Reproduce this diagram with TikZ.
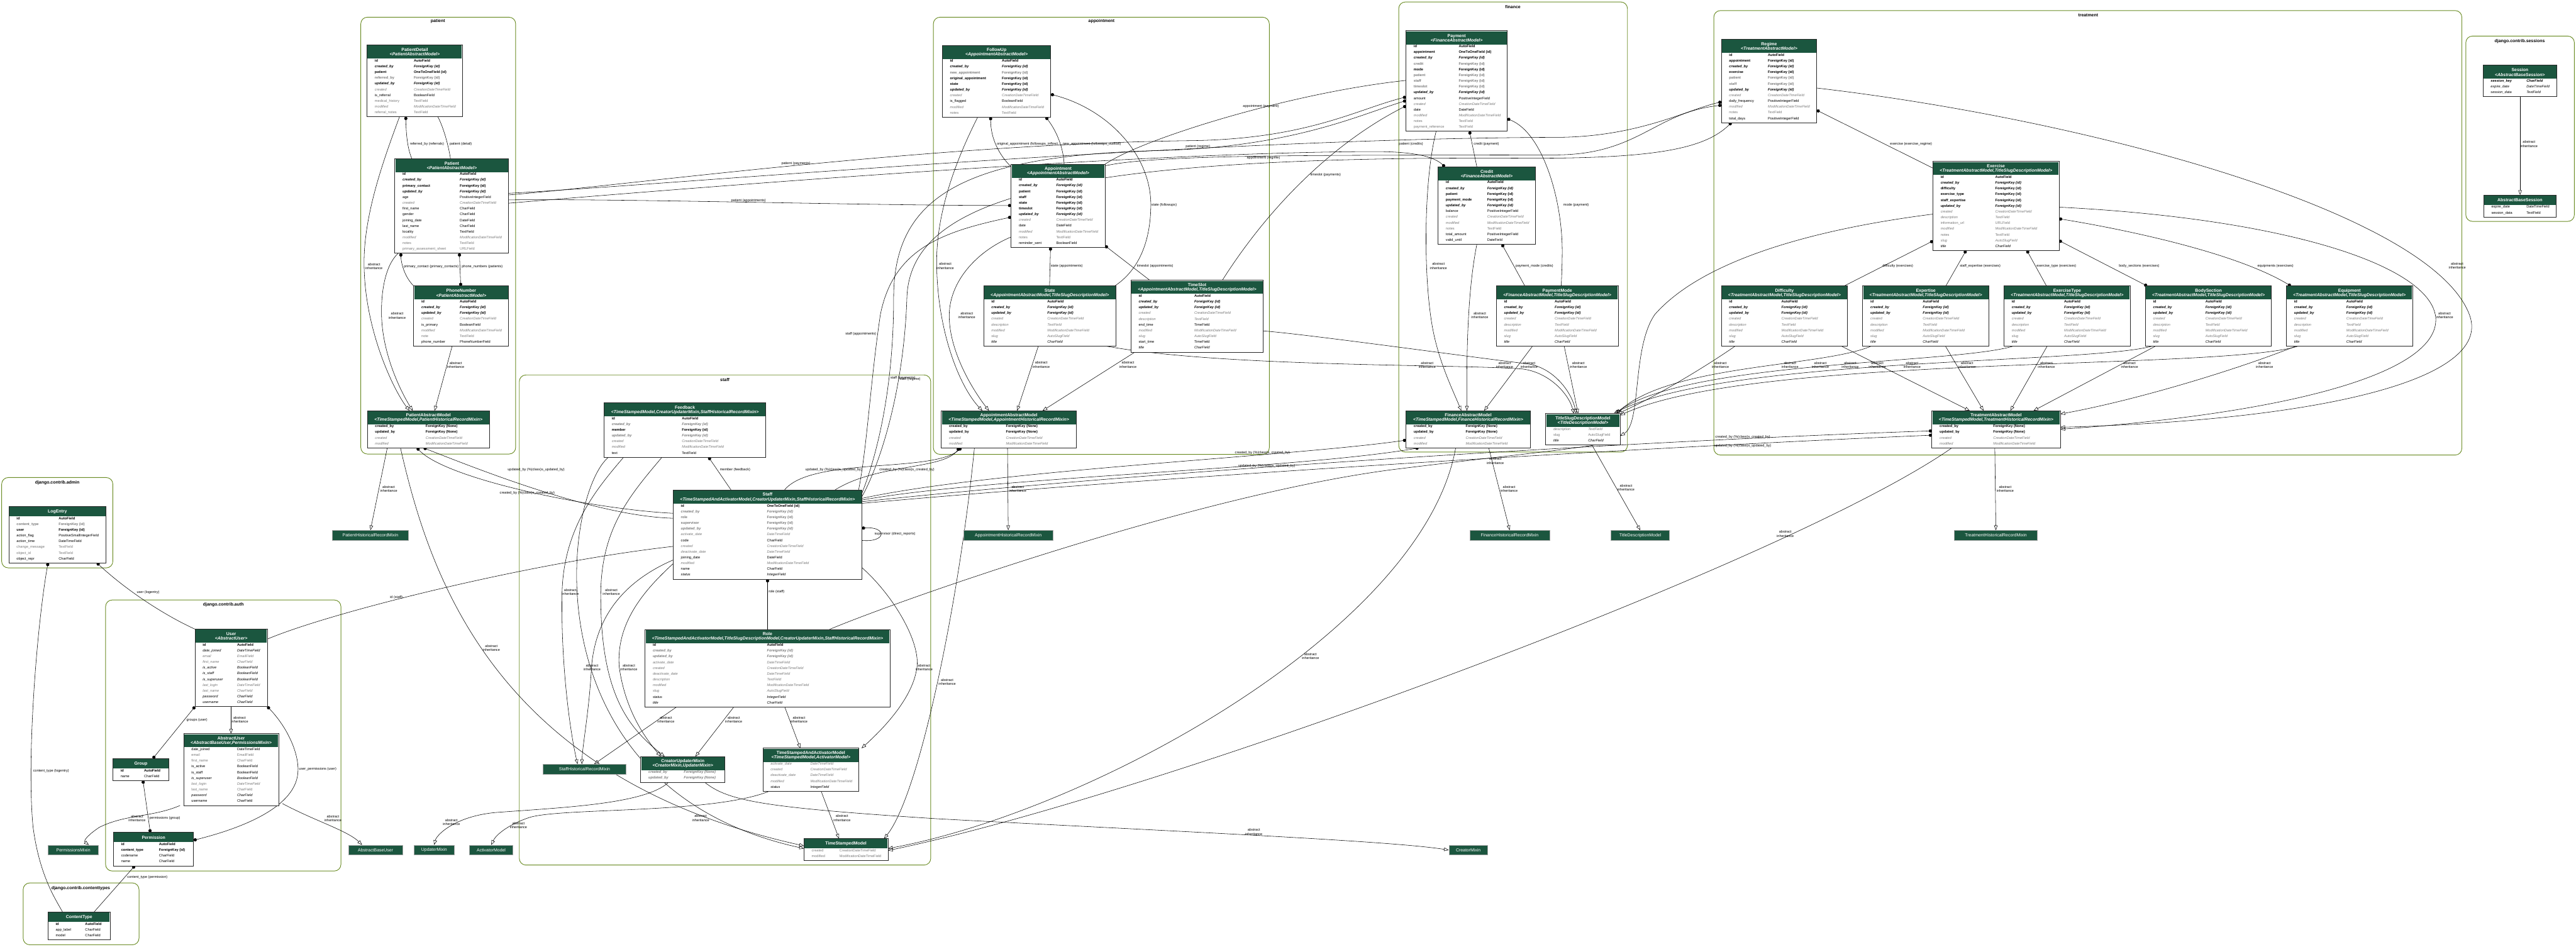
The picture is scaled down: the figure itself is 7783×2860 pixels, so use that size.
\documentclass[tikz,border=0pt]{standalone}
\usepackage{fontspec}
\setmainfont{Liberation Sans}
\usetikzlibrary{arrows.meta, calc, backgrounds, positioning}
\definecolor{hdrgreen}{HTML}{1B563F}
\definecolor{fldgray}{HTML}{7B7B7B}
\definecolor{olivedrab}{HTML}{698B22}

\newcommand{\fldfont}{\fontsize{6.1}{7}\selectfont}
\newcommand{\hdrfont}{\fontsize{7.5}{7.7}\selectfont}
\newcommand{\boxfont}{\fontsize{7.5}{8}\selectfont}
\newcommand{\lblfont}{\fontsize{6}{7}\selectfont}
\newcommand{\clusfont}{\fontsize{7.5}{9}\selectfont\bfseries}
\newcommand{\absinh}{abstract\\inheritance}

% field looks
\newcommand{\fB}{\bfseries}
\newcommand{\fBI}{\bfseries\itshape}
\newcommand{\fN}{}
\newcommand{\fI}{\itshape}
\newcommand{\fG}{\color{fldgray}}
\newcommand{\fGI}{\color{fldgray}\itshape}
\newcommand{\fGB}{\color{fldgray}\bfseries}
\newcommand{\fGBI}{\color{fldgray}\bfseries\itshape}

\tikzset{
  tblframe/.style={rectangle, fill=white, anchor=north west, inner sep=0pt, outer sep=0pt},
  tblborder/.style={draw=black!85, line width=1pt},
  hdrfill/.style={fill=hdrgreen},
  hdrtxt/.style={text=white, font=\hdrfont\bfseries, align=center, inner sep=0pt},
  fld/.style={anchor=base west, font=\fldfont, inner sep=0pt},
  boxnode/.style={rectangle, anchor=north west, fill=hdrgreen, draw=black!35,
    line width=0.8pt, text=white, font=\boxfont, minimum height=0.6cm, inner sep=0pt},
  cluster/.style={draw=olivedrab, line width=1pt, rounded corners=0.4cm},
  cluslbl/.style={font=\clusfont, inner sep=0pt},
  conn/.style={draw=black, line width=0.6pt},
  fk/.style={conn, {Circle[length=5.5pt]}-},
  mm/.style={conn, {Circle[length=5.5pt]}-{Circle[length=5.5pt]}},
  oo/.style={conn},
  inh/.style={conn, -{Triangle[open, length=8pt, width=6pt]}},
  lbl/.style={font=\lblfont, align=center, inner sep=0pt},
}

% #1 name, #2 x, #3 y, #4 width, #5 type column, #6 title, #7 parents, #8 rows
\newcommand{\dbtable}[8]{%
  \def\dbsub{#7}%
  \ifx\dbsub\empty\def\dbhh{30}\else\def\dbhh{41}\fi
  \foreach \dbitem [count=\dbc] in {#8} {\xdef\dbn{\dbc}}%
  \pgfmathsetmacro\dbh{\dbhh+\dbn*17.4+2}%
  \node[tblframe, minimum width={#4*0.02cm}, minimum height={\dbh*0.02cm}] (#1) at (#2,#3) {};
  \fill[hdrfill] ({#2+1.5},{#3+1.5}) rectangle ({#2+#4-1.5},{#3+\dbhh});
  \ifx\dbsub\empty
    \node[hdrtxt] (#1-h) at ({#2+#4/2},{#3+\dbhh/2+1}) {#6};
  \else
    \node[hdrtxt] (#1-h) at ({#2+#4/2},{#3+\dbhh/2+1}) {#6\\\textit{#7}};
  \fi
  \foreach \rowst/\rowname/\rowtype [count=\ri] in {#8} {%
    \node[fld] (#1-n\ri) at ({#2+23},{#3+\dbhh+(\ri-0.5)*17.4+1}) {\rowst\rowname};
    \node[fld] (#1-t\ri) at ({#2+#5},{#3+\dbhh+(\ri-0.5)*17.4+1}) {\rowst\rowtype};
  }%
  \draw[tblborder] (#1.north west) rectangle (#1.south east);
}
% #1 name, #2 x, #3 y, #4 width, #5 text
\newcommand{\dbbox}[5]{%
  \node[boxnode, minimum width={#4*0.02cm}] (#1) at (#2,#3) {#5};
}

\begin{document}
\begin{tikzpicture}[x=0.02cm, y=-0.02cm]
\useasboundingbox (0,0) rectangle (7783,2860);

% ---------- patient
\dbtable{pd}{1109}{136}{288}{141}{PatientDetail}{<PatientAbstractModel>}{
  \fB/id/AutoField, \fBI/created\_by/ForeignKey (id), \fB/patient/OneToOneField (id),
  \fGB/referred\_by/ForeignKey (id), \fBI/updated\_by/ForeignKey (id),
  \fGI/created/CreationDateTimeField, \fN/is\_referral/BooleanField,
  \fG/medical\_history/TextField, \fGI/modified/ModificationDateTimeField,
  \fG/referral\_notes/TextField}
\dbtable{pat}{1193}{479}{344}{196}{Patient}{<PatientAbstractModel>}{
  \fB/id/AutoField, \fBI/created\_by/ForeignKey (id), \fB/primary\_contact/ForeignKey (id),
  \fBI/updated\_by/ForeignKey (id), \fN/age/PositiveIntegerField,
  \fGI/created/CreationDateTimeField, \fN/first\_name/CharField, \fN/gender/CharField,
  \fN/joining\_date/DateField, \fN/last\_name/CharField, \fN/locality/TextField,
  \fGI/modified/ModificationDateTimeField, \fG/notes/TextField,
  \fG/primary\_assessment\_sheet/URLField}
\dbtable{phone}{1250}{864}{287}{139}{PhoneNumber}{<PatientAbstractModel>}{
  \fB/id/AutoField, \fBI/created\_by/ForeignKey (id), \fBI/updated\_by/ForeignKey (id),
  \fGI/created/CreationDateTimeField, \fN/is\_primary/BooleanField,
  \fGI/modified/ModificationDateTimeField, \fG/note/TextField,
  \fN/phone\_number/PhoneNumberField}
\dbtable{pam}{1110}{1241}{369}{176}{PatientAbstractModel}{<TimeStampedModel,PatientHistoricalRecordMixin>}{
  \fB/created\_by/ForeignKey (None), \fB/updated\_by/ForeignKey (None),
  \fGI/created/CreationDateTimeField, \fGI/modified/ModificationDateTimeField}

% ---------- appointment
\dbtable{fu}{2847}{137}{328}{180}{FollowUp}{<AppointmentAbstractModel>}{
  \fB/id/AutoField, \fBI/created\_by/ForeignKey (id), \fGB/new\_appointment/ForeignKey (id),
  \fB/original\_appointment/ForeignKey (id), \fB/state/ForeignKey (id),
  \fBI/updated\_by/ForeignKey (id), \fGI/created/CreationDateTimeField,
  \fN/is\_flagged/BooleanField, \fGI/modified/ModificationDateTimeField, \fG/notes/TextField}
\dbtable{app}{3055}{496}{284}{136}{Appointment}{<AppointmentAbstractModel>}{
  \fB/id/AutoField, \fBI/created\_by/ForeignKey (id), \fB/patient/ForeignKey (id),
  \fB/staff/ForeignKey (id), \fB/state/ForeignKey (id), \fB/timeslot/ForeignKey (id),
  \fBI/updated\_by/ForeignKey (id), \fGI/created/CreationDateTimeField, \fN/date/DateField,
  \fGI/modified/ModificationDateTimeField, \fG/notes/TextField, \fN/reminder\_sent/BooleanField}
\dbtable{state}{2972}{864}{400}{192}{State}{<AppointmentAbstractModel,TitleSlugDescriptionModel>}{
  \fB/id/AutoField, \fBI/created\_by/ForeignKey (id), \fBI/updated\_by/ForeignKey (id),
  \fGI/created/CreationDateTimeField, \fGI/description/TextField,
  \fGI/modified/ModificationDateTimeField, \fGI/slug/AutoSlugField, \fI/title/CharField}
\dbtable{slot}{3417}{847}{400}{191}{TimeSlot}{<AppointmentAbstractModel,TitleSlugDescriptionModel>}{
  \fB/id/AutoField, \fBI/created\_by/ForeignKey (id), \fBI/updated\_by/ForeignKey (id),
  \fGI/created/CreationDateTimeField, \fGI/description/TextField, \fN/end\_time/TimeField,
  \fGI/modified/ModificationDateTimeField, \fGI/slug/AutoSlugField,
  \fN/start\_time/TimeField, \fI/title/CharField}
\dbtable{aam}{2844}{1241}{408}{195}{AppointmentAbstractModel}{<TimeStampedModel,AppointmentHistoricalRecordMixin>}{
  \fB/created\_by/ForeignKey (None), \fB/updated\_by/ForeignKey (None),
  \fGI/created/CreationDateTimeField, \fGI/modified/ModificationDateTimeField}

% ---------- finance
\dbtable{pay}{4248}{93}{306}{159}{Payment}{<FinanceAbstractModel>}{
  \fB/id/AutoField, \fB/appointment/OneToOneField (id), \fBI/created\_by/ForeignKey (id),
  \fGB/credit/ForeignKey (id), \fB/mode/ForeignKey (id), \fGB/patient/ForeignKey (id),
  \fGB/staff/ForeignKey (id), \fGB/timeslot/ForeignKey (id), \fBI/updated\_by/ForeignKey (id),
  \fN/amount/PositiveIntegerField, \fGI/created/CreationDateTimeField, \fN/date/DateField,
  \fGI/modified/ModificationDateTimeField, \fG/notes/TextField, \fG/payment\_reference/TextField}
\dbtable{cred}{4345}{504}{294}{148}{Credit}{<FinanceAbstractModel>}{
  \fB/id/AutoField, \fBI/created\_by/ForeignKey (id), \fB/patient/ForeignKey (id),
  \fB/payment\_mode/ForeignKey (id), \fBI/updated\_by/ForeignKey (id),
  \fN/balance/PositiveIntegerField, \fGI/created/CreationDateTimeField,
  \fGI/modified/ModificationDateTimeField, \fG/notes/TextField,
  \fN/total\_amount/PositiveIntegerField, \fN/valid\_until/DateField}
\dbtable{pm}{4521}{864}{368}{176}{PaymentMode}{<FinanceAbstractModel,TitleSlugDescriptionModel>}{
  \fB/id/AutoField, \fBI/created\_by/ForeignKey (id), \fBI/updated\_by/ForeignKey (id),
  \fGI/created/CreationDateTimeField, \fGI/description/TextField,
  \fGI/modified/ModificationDateTimeField, \fGI/slug/AutoSlugField, \fI/title/CharField}
\dbtable{fam}{4248}{1241}{376}{180}{FinanceAbstractModel}{<TimeStampedModel,FinanceHistoricalRecordMixin>}{
  \fB/created\_by/ForeignKey (None), \fB/updated\_by/ForeignKey (None),
  \fGI/created/CreationDateTimeField, \fGI/modified/ModificationDateTimeField}
\dbtable{tsdm}{4670}{1250}{225}{128}{TitleSlugDescriptionModel}{<TitleDescriptionModel>}{
  \fGI/description/TextField, \fG/slug/AutoSlugField, \fI/title/CharField}

% ---------- treatment
\dbtable{reg}{5201}{119}{288}{140}{Regime}{<TreatmentAbstractModel>}{
  \fB/id/AutoField, \fB/appointment/ForeignKey (id), \fBI/created\_by/ForeignKey (id),
  \fB/exercise/ForeignKey (id), \fGB/patient/ForeignKey (id), \fGB/staff/ForeignKey (id),
  \fBI/updated\_by/ForeignKey (id), \fGI/created/CreationDateTimeField,
  \fN/daily\_frequency/PositiveIntegerField, \fGI/modified/ModificationDateTimeField,
  \fG/notes/TextField, \fN/total\_days/PositiveIntegerField}
\dbtable{ex}{5840}{488}{381}{188}{Exercise}{<TreatmentAbstractModel,TitleSlugDescriptionModel>}{
  \fB/id/AutoField, \fBI/created\_by/ForeignKey (id), \fB/difficulty/ForeignKey (id),
  \fB/exercise\_type/ForeignKey (id), \fB/staff\_expertise/ForeignKey (id),
  \fBI/updated\_by/ForeignKey (id), \fGI/created/CreationDateTimeField,
  \fGI/description/TextField, \fG/information\_url/URLField,
  \fGI/modified/ModificationDateTimeField, \fG/notes/TextField, \fGI/slug/AutoSlugField,
  \fI/title/CharField}
\foreach \tn/\tx/\tt in {diff/5201/Difficulty, expt/5628/Expertise, etype/6055/ExerciseType,
    body/6482/BodySection, equip/6908/Equipment} {
  \dbtable{\tn}{\tx}{864}{381}{181}{\tt}{<TreatmentAbstractModel,TitleSlugDescriptionModel>}{
    \fB/id/AutoField, \fBI/created\_by/ForeignKey (id), \fBI/updated\_by/ForeignKey (id),
    \fGI/created/CreationDateTimeField, \fGI/description/TextField,
    \fGI/modified/ModificationDateTimeField, \fGI/slug/AutoSlugField, \fI/title/CharField}
}
\dbtable{tam}{5837}{1241}{388}{185}{TreatmentAbstractModel}{<TimeStampedModel,TreatmentHistoricalRecordMixin>}{
  \fB/created\_by/ForeignKey (None), \fB/updated\_by/ForeignKey (None),
  \fGI/created/CreationDateTimeField, \fGI/modified/ModificationDateTimeField}

% ---------- sessions
\dbtable{sess}{7502}{197}{223}{131}{Session}{<AbstractBaseSession>}{
  \fBI/session\_key/CharField, \fI/expire\_date/DateTimeField, \fI/session\_data/TextField}
\dbtable{abs}{7504}{589}{219}{129}{AbstractBaseSession}{}{
  \fN/expire\_date/DateTimeField, \fN/session\_data/TextField}

% ---------- staff
\dbtable{fb}{1825}{1217}{489}{235}{Feedback}{<TimeStampedModel,CreatorUpdaterMixin,StaffHistoricalRecordMixin>}{
  \fB/id/AutoField, \fGBI/created\_by/ForeignKey (id), \fB/member/ForeignKey (id),
  \fGBI/updated\_by/ForeignKey (id), \fGI/created/CreationDateTimeField,
  \fGI/modified/ModificationDateTimeField, \fN/text/TextField}
\dbtable{staff}{2034}{1481}{570}{283}{Staff}{<TimeStampedAndActivatorModel,CreatorUpdaterMixin,StaffHistoricalRecordMixin>}{
  \fB/id/OneToOneField (id), \fGBI/created\_by/ForeignKey (id), \fGB/role/ForeignKey (id),
  \fGB/supervisor/ForeignKey (id), \fGBI/updated\_by/ForeignKey (id),
  \fGI/activate\_date/DateTimeField, \fN/code/CharField, \fGI/created/CreationDateTimeField,
  \fGI/deactivate\_date/DateTimeField, \fN/joining\_date/DateField,
  \fGI/modified/ModificationDateTimeField, \fN/name/CharField, \fI/status/IntegerField}
\dbtable{role}{1949}{1902}{740}{368}{Role}{<TimeStampedAndActivatorModel,TitleSlugDescriptionModel,CreatorUpdaterMixin,StaffHistoricalRecordMixin>}{
  \fB/id/AutoField, \fGBI/created\_by/ForeignKey (id), \fGBI/updated\_by/ForeignKey (id),
  \fGI/activate\_date/DateTimeField, \fGI/created/CreationDateTimeField,
  \fGI/deactivate\_date/DateTimeField, \fGI/description/TextField,
  \fGI/modified/ModificationDateTimeField, \fGI/slug/AutoSlugField,
  \fI/status/IntegerField, \fI/title/CharField}
\dbtable{cum}{1936}{2286}{254}{130}{CreatorUpdaterMixin}{<CreatorMixin,UpdaterMixin>}{
  \fGBI/created\_by/ForeignKey (None), \fGBI/updated\_by/ForeignKey (None)}
\dbtable{tsaam}{2305}{2261}{290}{143}{TimeStampedAndActivatorModel}{<TimeStampedModel,ActivatorModel>}{
  \fGI/activate\_date/DateTimeField, \fGI/created/CreationDateTimeField,
  \fGI/deactivate\_date/DateTimeField, \fGI/modified/ModificationDateTimeField,
  \fI/status/IntegerField}
\dbtable{tsm}{2429}{2534}{254}{107}{TimeStampedModel}{}{
  \fG/created/CreationDateTimeField, \fG/modified/ModificationDateTimeField}

% ---------- admin, auth, contenttypes
\dbtable{log}{27}{1530}{293}{150}{LogEntry}{}{
  \fB/id/AutoField, \fGB/content\_type/ForeignKey (id), \fB/user/ForeignKey (id),
  \fN/action\_flag/PositiveSmallIntegerField, \fN/action\_time/DateTimeField,
  \fG/change\_message/TextField, \fG/object\_id/TextField, \fN/object\_repr/CharField}
\dbtable{user}{589}{1901}{219}{127}{User}{<AbstractUser>}{
  \fB/id/AutoField, \fI/date\_joined/DateTimeField, \fGI/email/EmailField,
  \fGI/first\_name/CharField, \fI/is\_active/BooleanField, \fI/is\_staff/BooleanField,
  \fI/is\_superuser/BooleanField, \fGI/last\_login/DateTimeField, \fGI/last\_name/CharField,
  \fI/password/CharField, \fI/username/CharField}
\dbtable{au}{555}{2217}{287}{161}{AbstractUser}{<AbstractBaseUser,PermissionsMixin>}{
  \fN/date\_joined/DateTimeField, \fG/email/EmailField, \fG/first\_name/CharField,
  \fN/is\_active/BooleanField, \fN/is\_staff/BooleanField, \fI/is\_superuser/BooleanField,
  \fGI/last\_login/DateTimeField, \fG/last\_name/CharField, \fI/password/CharField,
  \fN/username/CharField}
\dbtable{group}{341}{2292}{169}{94}{Group}{}{\fB/id/AutoField, \fN/name/CharField}
\dbtable{perm}{343}{2515}{242}{137}{Permission}{}{
  \fB/id/AutoField, \fB/content\_type/ForeignKey (id), \fN/codename/CharField, \fN/name/CharField}
\dbtable{ct}{145}{2756}{188}{112}{ContentType}{}{
  \fB/id/AutoField, \fN/app\_label/CharField, \fN/model/CharField}

% ---------- models without fields
\dbbox{phrm}{1003}{1602}{231}{PatientHistoricalRecordMixin}
\dbbox{ahrm}{2911}{1602}{269}{AppointmentHistoricalRecordMixin}
\dbbox{fhrm}{4440}{1602}{241}{FinanceHistoricalRecordMixin}
\dbbox{tdm}{4867}{1602}{176}{TitleDescriptionModel}
\dbbox{thrm}{5904}{1602}{251}{TreatmentHistoricalRecordMixin}
\dbbox{shrm}{1640}{2309}{251}{StaffHistoricalRecordMixin}
\dbbox{pmx}{145}{2553}{152}{PermissionsMixin}
\dbbox{abu}{1052}{2553}{164}{AbstractBaseUser}
\dbbox{upd}{1250}{2553}{122}{UpdaterMixin}
\dbbox{act}{1418}{2553}{131}{ActivatorModel}
\dbbox{cre}{4377}{2553}{117}{CreatorMixin}

\begin{scope}[on background layer]
\fill[white] (0,0) rectangle (7783,2860);
% clusters
\draw[cluster] (1090,52) rectangle (1558,1372);
\node[cluslbl] (c-pat) at (1323,64) {patient};
\draw[cluster] (2820,52) rectangle (3835,1373);
\node[cluslbl] (c-app) at (3328,64) {appointment};
\draw[cluster] (4226,6) rectangle (4917,1366);
\node[cluslbl] (c-fin) at (4571,21) {finance};
\draw[cluster] (5178,32) rectangle (7438,1375);
\node[cluslbl] (c-trt) at (6309,47) {treatment};
\draw[cluster] (7450,109) rectangle (7778,669);
\node[cluslbl] (c-ses) at (7613,125) {django.contrib.sessions};
\draw[cluster] (1569,1133) rectangle (2812,2614);
\node[cluslbl] (c-stf) at (2190,1148) {staff};
\draw[cluster] (5,1443) rectangle (341,1716);
\node[cluslbl] (c-adm) at (173,1458) {django.contrib.admin};
\draw[cluster] (319,1813) rectangle (1030,2632);
\node[cluslbl] (c-aut) at (675,1828) {django.contrib.auth};
\draw[cluster] (70,2668) rectangle (420,2855);
\node[cluslbl] (c-ct) at (244,2685) {django.contrib.contenttypes};

% patient
\draw[fk] ($(pd.south west)+(117,0)$) .. controls (1227,410) and (1232,450) .. ($(pat.north west)+(51,0)$)
  node[lbl] (e1) at (1290,436) {referred\_by (referrals)};
\draw[oo] ($(pd.south west)+(214,0)$) .. controls (1340,385) and (1355,440) .. ($(pat.north west)+(168,0)$)
  node[lbl] (e2) at (1392,436) {patient (detail)};
\draw[inh] ($(pd.south west)+(98,0)$) .. controls (1160,480) and (1098,650) .. (1100,800)
  .. controls (1102,1000) and (1190,1180) .. ($(pam.north west)+(127,0)$)
  node[lbl] (e3) at (1130,805) {\absinh};
\draw[inh] ($(pat.south west)+(10,0)$) .. controls (1165,800) and (1150,880) .. (1153,960)
  .. controls (1158,1080) and (1215,1190) .. ($(pam.north west)+(137,0)$)
  node[lbl] (e4) at (1200,954) {\absinh};
\draw[fk] ($(pat.south west)+(18,0)$) .. controls (1212,800) and (1225,840) .. (phone.north west)
  node[lbl] (e5) at (1303,805) {primary\_contact (primary\_contacts)};
\draw[mm] ($(pat.south west)+(195,0)$) -- ($(phone.north west)+(142,0)$)
  node[lbl] (e6) at (1457,805) {phone\_numbers (patients)};
\draw[inh] ($(phone.south west)+(116,0)$) -- ($(pam.north west)+(203,0)$)
  node[lbl] (e7) at (1377,1103) {\absinh};

% appointment
\draw[fk] ($(fu.south west)+(146,0)$) .. controls (2993,420) and (3020,470) .. ($(app.north west)+(0,8)$)
  node[lbl] (e8) at (3104,436) {original\_appointment (followups\_inflow)};
\draw[fk] ($(fu.south west)+(313,0)$) .. controls (3195,400) and (3213,450) .. ($(app.north west)+(160,0)$)
  node[lbl] (e9) at (3299,436) {new\_appointment (followups\_outflow)};
\draw[fk] ($(fu.north east)+(0,148)$) .. controls (3350,330) and (3478,470) .. (3477,620)
  .. controls (3476,760) and (3420,830) .. ($(state.north east)+(-4,0)$)
  node[lbl] (e10) at (3517,620) {state (followups)};
\draw[fk] ($(app.south west)+(119,0)$) -- ($(state.north west)+(199,0)$)
  node[lbl] (e11) at (3223,804) {state (appointments)};
\draw[fk] ($(app.south east)+(0,-5)$) -- ($(slot.north west)+(57,0)$)
  node[lbl] (e12) at (3490,804) {timeslot (appointments)};
\draw[inh] ($(fu.south west)+(107,0)$) .. controls (2880,500) and (2830,650) .. (2830,790)
  .. controls (2830,1000) and (2900,1170) .. ($(aam.north west)+(124,0)$)
  node[lbl] (e13) at (2856,804) {\absinh};
\draw[inh] ($(app.north west)+(0,220)$) .. controls (2950,760) and (2870,850) .. (2868,950)
  .. controls (2866,1060) and (2940,1180) .. ($(aam.north west)+(144,0)$)
  node[lbl] (e14) at (2921,953) {\absinh};
\draw[inh] ($(state.south west)+(165,0)$) -- ($(aam.north west)+(229,0)$)
  node[lbl] (e15) at (3146,1102) {\absinh};
\draw[inh] ($(slot.south west)+(12,0)$) -- ($(aam.north west)+(306,0)$)
  node[lbl] (e16) at (3408,1102) {\absinh};
\draw[inh] ($(state.south east)+(-29,0)$) .. controls (3700,1110) and (4400,1100) .. (4600,1115)
  .. controls (4680,1125) and (4740,1190) .. ($(tsdm.north west)+(85,0)$)
  node[lbl] (e17) at (4312,1103) {\absinh};
\draw[inh] ($(slot.north east)+(0,153)$) .. controls (3950,1010) and (4450,1080) .. (4620,1100)
  .. controls (4700,1115) and (4750,1190) .. ($(tsdm.north west)+(92,0)$)
  node[lbl] (e18) at (4546,1103) {\absinh};

% finance
\draw[fk] ($(pay.south west)+(192,0)$) -- ($(cred.north west)+(117,0)$)
  node[lbl] (e19) at (4491,436) {credit (payment)};
\draw[fk] ($(pay.north east)+(0,266)$) .. controls (4660,400) and (4720,600) .. (4720,759)
  .. controls (4720,800) and (4718,840) .. ($(pm.north west)+(196,0)$)
  node[lbl] (e20) at (4762,620) {mode (payment)};
\draw[fk] ($(cred.south west)+(193,0)$) -- ($(pm.north west)+(86,0)$)
  node[lbl] (e21) at (4636,804) {payment\_mode (credits)};
\draw[inh] ($(pay.south west)+(91,0)$) .. controls (4300,550) and (4300,850) .. (4330,1000)
  .. controls (4350,1100) and (4390,1180) .. ($(fam.north west)+(167,0)$)
  node[lbl] (e22) at (4346,804) {\absinh};
\draw[inh] ($(cred.south west)+(117,0)$) .. controls (4440,850) and (4430,1000) .. ($(fam.north west)+(184,0)$)
  node[lbl] (e23) at (4471,953) {\absinh};
\draw[inh] ($(pm.south west)+(109,0)$) -- ($(fam.north west)+(236,0)$)
  node[lbl] (e24) at (4620,1103) {\absinh};
\draw[inh] ($(pm.south west)+(205,0)$) -- ($(tsdm.north west)+(98,0)$)
  node[lbl] (e25) at (4769,1103) {\absinh};

% treatment
\draw[fk] ($(reg.north east)+(0,214)$) -- ($(ex.north west)+(0,20)$)
  node[lbl] (e26) at (5774,436) {exercise (exercise\_regime)};
\draw[fk] ($(ex.north west)+(0,240)$) -- ($(diff.north west)+(371,0)$)
  node[lbl] (e27) at (5734,804) {difficulty (exercises)};
\draw[fk] ($(ex.south west)+(100,0)$) -- ($(expt.north west)+(251,0)$)
  node[lbl] (e28) at (5983,804) {staff\_expertise (exercises)};
\draw[fk] ($(ex.south west)+(284,0)$) -- ($(etype.north west)+(128,0)$)
  node[lbl] (e29) at (6213,804) {exercise\_type (exercises)};
\draw[mm] ($(ex.north east)+(0,239)$) -- ($(body.north west)+(5,0)$)
  node[lbl] (e30) at (6463,804) {body\_sections (exercises)};
\draw[mm] ($(ex.north east)+(0,173)$) .. controls (6400,690) and (6750,760) .. ($(equip.north west)+(13,0)$)
  node[lbl] (e31) at (6875,804) {equipments (exercises)};
\draw[inh] ($(diff.south west)+(363,0)$) -- ($(tam.north west)+(114,0)$)
  node[lbl] (e32) at (5777,1103) {\absinh};
\draw[inh] ($(expt.south west)+(250,0)$) -- ($(tam.north west)+(156,0)$)
  node[lbl] (e33) at (5943,1103) {\absinh};
\draw[inh] ($(etype.south west)+(130,0)$) -- ($(tam.north west)+(237,0)$)
  node[lbl] (e34) at (6183,1103) {\absinh};
\draw[inh] ($(body.south west)+(30,0)$) -- ($(tam.north west)+(307,0)$)
  node[lbl] (e35) at (6434,1103) {\absinh};
\draw[inh] ($(equip.south west)+(28,0)$) .. controls (6750,1120) and (6450,1210) .. ($(tam.north east)+(0,10)$)
  node[lbl] (e36) at (6842,1103) {\absinh};
\draw[inh] ($(reg.north east)+(0,147)$) .. controls (6300,360) and (7350,640) .. (7462,954)
  .. controls (7530,1150) and (7000,1270) .. ($(tam.north east)+(0,50)$)
  node[lbl] (e37) at (7424,803) {\absinh};
\draw[inh] ($(ex.north east)+(0,138)$) .. controls (6900,660) and (7340,800) .. (7359,958)
  .. controls (7375,1130) and (6900,1250) .. ($(tam.north east)+(0,56)$)
  node[lbl] (e38) at (7386,953) {\absinh};
\draw[inh] ($(ex.north west)+(0,159)$) .. controls (5500,690) and (5150,780) .. (5000,950)
  .. controls (4930,1050) and (4960,1280) .. ($(tsdm.north east)+(0,67)$);
\draw[inh] ($(diff.south west)+(41,0)$) .. controls (5150,1110) and (5000,1200) .. ($(tsdm.north east)+(-8,0)$)
  node[lbl] (e40) at (5198,1103) {\absinh};
\draw[inh] ($(expt.south west)+(25,0)$) .. controls (5500,1110) and (5050,1100) .. ($(tsdm.north east)+(-12,0)$)
  node[lbl] (e41) at (5408,1103) {\absinh};
\draw[inh] ($(etype.south west)+(27,0)$) .. controls (5900,1100) and (5100,1090) .. ($(tsdm.north east)+(-16,0)$)
  node[lbl] (e42) at (5500,1103) {\absinh};
\draw[inh] ($(body.south west)+(20,0)$) .. controls (6300,1100) and (5200,1080) .. ($(tsdm.north east)+(-20,0)$)
  node[lbl] (e43) at (5590,1103) {\absinh};
\draw[inh] ($(equip.south west)+(35,0)$) .. controls (6700,1120) and (5300,1070) .. ($(tsdm.north east)+(0,5)$)
  node[lbl] (e44) at (5672,1103) {\absinh};

% sessions
\draw[inh] ($(sess.south west)+(112,0)$) -- ($(abs.north west)+(110,0)$)
  node[lbl] (e45) at (7641,435) {\absinh};

% abstract models to their parents
\draw[inh] ($(pam.south west)+(60,0)$) -- (phrm.north) node[lbl, pos=0.5, right=2pt] (e46) {\absinh};
\draw[inh] ($(aam.south west)+(200,0)$) -- (ahrm.north) node[lbl, pos=0.5, right=2pt] (e47) {\absinh};
\draw[inh] ($(fam.south west)+(250,0)$) -- (fhrm.north) node[lbl, pos=0.5, right=2pt] (e48) {\absinh};
\draw[inh] ($(tsdm.south west)+(140,0)$) -- (tdm.north) node[lbl, pos=0.5, right=2pt] (e49) {\absinh};
\draw[inh] ($(tam.south west)+(190,0)$) -- (thrm.north) node[lbl, pos=0.5, right=2pt] (e50) {\absinh};
\draw[inh] ($(pam.south west)+(100,0)$) .. controls (1300,1750) and (1500,2350) .. ($(tsm.north west)+(0,22)$)
  node[lbl, pos=0.45, right=2pt] (e51) {\absinh};
\draw[inh] ($(aam.south west)+(100,0)$) .. controls (2900,1800) and (2780,2400) .. ($(tsm.north east)+(-12,0)$)
  node[lbl, pos=0.5, right=2pt] (e52) {\absinh};
\draw[inh] ($(fam.south west)+(150,0)$) .. controls (4300,1900) and (3300,2450) .. ($(tsm.north east)+(0,30)$)
  node[lbl, pos=0.4, right=2pt] (e53) {\absinh};
\draw[inh] ($(tam.south west)+(60,0)$) .. controls (5400,1700) and (3500,2400) .. ($(tsm.north east)+(0,36)$)
  node[lbl] (e54) at (5394,1613) {\absinh};

% staff
\draw[fk] ($(staff.north east)+(0,115)$) .. controls (2680,1590) and (2680,1640) .. ($(staff.north east)+(0,152)$)
  node[lbl, anchor=west] (e55) at (2642,1614) {supervisor (direct\_reports)};
\draw[fk] ($(staff.south west)+(285,0)$) -- ($(role.north west)+(370,0)$)
  node[lbl, anchor=west] (e56) at (2322,1789) {role (staff)};
\draw[fk] ($(fb.south west)+(316,0)$) -- ($(staff.north west)+(175,0)$)
  node[lbl] (e57) at (2221,1419) {member (feedback)};
\draw[inh] ($(role.south west)+(95,0)$) -- ($(shrm.north west)+(155,0)$)
  node[lbl] (e58) at (2012,2175) {\absinh};
\draw[inh] ($(role.south west)+(268,0)$) -- ($(cum.north west)+(165,0)$)
  node[lbl] (e59) at (2217,2175) {\absinh};
\draw[inh] ($(role.south west)+(422,0)$) -- ($(tsaam.north west)+(113,0)$)
  node[lbl] (e60) at (2414,2175) {\absinh};
\draw[inh] ($(staff.north east)+(0,234)$) .. controls (2700,1800) and (2790,1950) .. (2768,2030)
  .. controls (2750,2120) and (2660,2210) .. ($(tsaam.north east)+(8,0)$)
  node[lbl] (e61) at (2792,2017) {\absinh};
\draw[inh] ($(fb.south west)+(59,0)$) .. controls (1800,1480) and (1700,1600) .. (1698,1800)
  .. controls (1695,2000) and (1720,2200) .. ($(shrm.north west)+(105,0)$)
  node[lbl] (e62) at (1723,1789) {\absinh};
\draw[inh] ($(fb.south west)+(175,0)$) .. controls (1900,1500) and (1815,1600) .. (1815,1800)
  .. controls (1815,2100) and (1900,2200) .. ($(cum.north west)+(72,0)$)
  node[lbl] (e63) at (1847,1789) {\absinh};
\draw[inh] ($(staff.north west)+(0,211)$) .. controls (1900,1750) and (1800,1850) .. (1787,2017)
  .. controls (1780,2150) and (1760,2250) .. ($(shrm.north west)+(118,0)$)
  node[lbl] (e64) at (1789,2017) {\absinh};
\draw[inh] ($(staff.north west)+(0,222)$) .. controls (1950,1780) and (1860,1880) .. (1871,2017)
  .. controls (1890,2150) and (1950,2230) .. ($(cum.north west)+(60,0)$)
  node[lbl] (e65) at (1900,2017) {\absinh};
\draw[inh] ($(fb.south west)+(13,0)$) .. controls (1700,1500) and (1590,2380) .. ($(tsm.north west)+(0,30)$)
  node[lbl] (e66) at (2117,2472) {\absinh};
\draw[inh] ($(tsaam.south west)+(176,0)$) -- ($(tsm.north west)+(106,0)$)
  node[lbl] (e67) at (2544,2472) {\absinh};
\draw[inh] ($(tsaam.south west)+(19,0)$) .. controls (2150,2460) and (1700,2440) .. (1600,2470)
  .. controls (1540,2490) and (1500,2520) .. (act.north) node[lbl, pos=0.2, below] (e68) {\absinh};
\draw[inh] ($(cum.south west)+(84,0)$) .. controls (1950,2430) and (1700,2440) .. (1500,2455)
  .. controls (1380,2465) and (1320,2520) .. (upd.north) node[lbl, pos=0.5, above] (e69) {\absinh};
\draw[inh] ($(cum.south west)+(193,0)$) .. controls (2200,2420) and (2300,2440) .. (2830,2474)
  .. controls (3500,2510) and (4200,2540) .. (cre.west) node[lbl, pos=0.5, above] (e70) {\absinh};
\draw[inh] ($(role.north east)+(-183,0)$) .. controls (2700,1820) and (3600,1500) .. (4200,1420)
  .. controls (4600,1370) and (4850,1350) .. ($(tsdm.north east)+(0,70)$)
  node[lbl, pos=0.3, below] (e71) {\absinh};

% auth, admin, contenttypes
\draw[mm] (user.south west) -- ($(group.north west)+(121,0)$)
  node[lbl] (e72) at (595,2175) {groups (user)};
\draw[inh] ($(user.south west)+(109,0)$) -- ($(au.north west)+(143,0)$)
  node[lbl] (e73) at (724,2175) {\absinh};
\draw[mm] (user.south east) .. controls (870,2200) and (905,2280) .. (900,2336)
  .. controls (890,2450) and (700,2510) .. ($(perm.north east)+(0,24)$)
  node[lbl] (e74) at (960,2324) {user\_permissions (user)};
\draw[mm] ($(group.south west)+(91,0)$) -- ($(perm.north west)+(111,0)$)
  node[lbl] (e75) at (498,2473) {permissions (group)};
\draw[inh] ($(au.south east)+(11,-6)$) .. controls (950,2480) and (1050,2510) .. ($(abu.north west)+(42,0)$)
  node[lbl] (e76) at (1006,2473) {\absinh};
\draw[inh] ($(au.south west)+(-11,0)$) .. controls (460,2470) and (380,2460) .. (300,2500)
  .. controls (270,2520) and (250,2540) .. ($(pmx.north east)+(-30,0)$)
  node[lbl] (e77) at (414,2473) {\absinh};
\draw[fk] ($(perm.south west)+(64,0)$) -- ($(ct.north west)+(139,0)$)
  node[lbl, anchor=west] (e78) at (384,2651) {content\_type (permission)};
\draw[fk] ($(log.south west)+(118,0)$) .. controls (110,1900) and (80,2300) .. (100,2500)
  .. controls (120,2650) and (170,2720) .. ($(ct.north west)+(44,0)$)
  node[lbl, anchor=west] (e79) at (100,2330) {content\_type (logentry)};
\draw[fk] ($(log.south west)+(266,0)$) .. controls (400,1800) and (520,1870) .. (user.north west)
  node[lbl, anchor=west] (e80) at (413,1790) {user (logentry)};
\draw[oo] ($(staff.north west)+(0,170)$) .. controls (1600,1700) and (1000,1850) .. ($(user.north east)+(0,30)$)
  node[lbl, pos=0.6, above] (e81) {id (staff)};

% links across apps
\draw[fk] ($(app.north west)+(0,125)$) .. controls (2600,621) and (1900,600) .. ($(pat.north east)+(0,125)$)
  node[lbl, pos=0.5, above] (e82) {patient (appointments)};
\draw[fk] ($(app.north west)+(0,160)$) .. controls (2850,700) and (2700,750) .. (2660,950)
  .. controls (2630,1150) and (2620,1350) .. ($(staff.north east)+(-10,0)$)
  node[lbl, pos=0.1, left=2pt] (e83) {staff (appointments)};
\draw[oo] ($(pay.north west)+(0,150)$) .. controls (3900,280) and (3450,420) .. (app.north east)
  node[lbl, pos=0.4, above] (e84) {appointment (payment)};
\draw[fk] ($(pay.north west)+(0,200)$) .. controls (4100,330) and (3950,420) .. (3600,425)
  .. controls (2800,435) and (1900,560) .. ($(pat.north east)+(0,110)$)
  node[lbl, pos=0.5, above] (e85) {patient (payments)};
\draw[fk] ($(pay.north west)+(0,211)$) .. controls (4100,350) and (3900,445) .. (3500,455)
  .. controls (2900,470) and (2700,600) .. (2700,900)
  .. controls (2700,1200) and (2640,1400) .. ($(staff.north east)+(0,10)$)
  node[lbl, pos=0.3, right=2pt] (e86) {staff (payments)};
\draw[fk] ($(pay.north west)+(0,227)$) .. controls (4050,420) and (3850,600) .. ($(slot.north west)+(276,0)$)
  node[lbl, pos=0.5, right=2pt] (e87) {timeslot (payments)};
\draw[fk] ($(cred.north west)+(20,0)$) .. controls (4330,470) and (4260,458) .. (4150,458)
  .. controls (3400,460) and (2000,575) .. ($(pat.north east)+(0,135)$)
  node[lbl] (e88) at (4263,436) {patient (credits)};
\draw[fk] ($(reg.north west)+(0,189)$) .. controls (5100,330) and (4950,415) .. (4700,415)
  .. controls (3600,418) and (2000,560) .. ($(pat.north east)+(0,105)$)
  node[lbl, pos=0.3, above] (e89) {patient (regime)};
\draw[fk] ($(reg.north west)+(0,199)$) .. controls (5000,340) and (4950,468) .. (4700,468)
  .. controls (4000,470) and (3500,465) .. ($(app.north east)+(0,5)$)
  node[lbl, pos=0.5, below] (e90) {appointment (regime)};
\draw[fk] ($(reg.south west)+(30,0)$) .. controls (5150,450) and (5000,480) .. (4600,478)
  .. controls (3200,470) and (2750,600) .. (2740,900)
  .. controls (2730,1200) and (2650,1420) .. ($(staff.north east)+(0,20)$)
  node[lbl, pos=0.3, right=2pt] (e91) {staff (regime)};
\draw[fk] ($(pam.south west)+(150,0)$) .. controls (1350,1450) and (1800,1540) .. ($(staff.north west)+(0,70)$)
  node[lbl, pos=0.5, below] (e92) {created\_by (\%(class)s\_created\_by)};
\draw[fk] ($(pam.south west)+(170,0)$) .. controls (1450,1420) and (1800,1560) .. ($(staff.north west)+(0,85)$)
  node[lbl] (e93) at (1620,1419) {updated\_by (\%(class)s\_updated\_by)};
\draw[fk] ($(aam.south west)+(54,0)$) .. controls (2850,1420) and (2650,1400) .. ($(staff.north west)+(488,0)$)
  node[lbl] (e94) at (2740,1419) {created\_by (\%(class)s\_created\_by)};
\draw[fk] ($(aam.south west)+(60,0)$) .. controls (2820,1430) and (2450,1380) .. ($(staff.north west)+(336,0)$)
  node[lbl] (e95) at (2519,1419) {updated\_by (\%(class)s\_updated\_by)};
\draw[fk] ($(fam.north west)+(0,89)$) .. controls (3900,1380) and (3000,1420) .. ($(staff.north east)+(0,25)$)
  node[lbl, pos=0.3, above] (e96) {created\_by (\%(class)s\_created\_by)};
\draw[fk] ($(fam.south west)+(38,0)$) .. controls (3900,1420) and (3000,1440) .. ($(staff.north east)+(0,30)$)
  node[lbl, pos=0.3, below] (e97) {updated\_by (\%(class)s\_updated\_by)};
\draw[fk] ($(tam.north west)+(0,61)$) .. controls (5000,1330) and (3500,1420) .. ($(staff.north east)+(0,35)$)
  node[lbl, pos=0.2, above] (e98) {created\_by (\%(class)s\_created\_by)};
\draw[fk] ($(tam.north west)+(0,74)$) .. controls (5000,1350) and (3500,1440) .. ($(staff.north east)+(0,40)$)
  node[lbl, pos=0.2, below] (e99) {updated\_by (\%(class)s\_updated\_by)};
\end{scope}
\end{tikzpicture}
\end{document}
